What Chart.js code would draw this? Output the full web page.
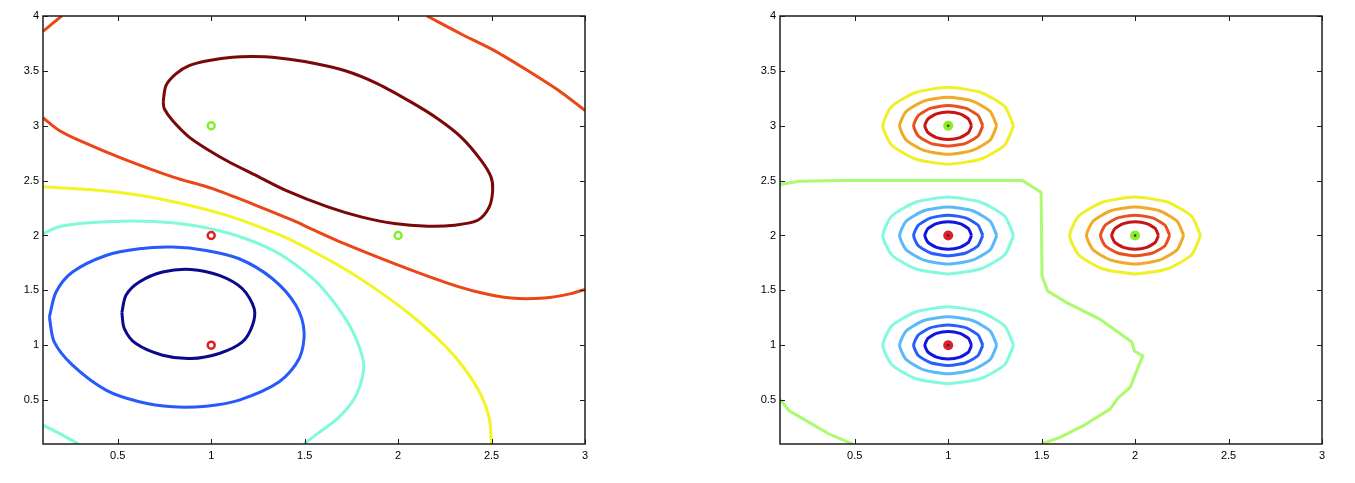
<!DOCTYPE html>
<html>
<head>
<meta charset="utf-8">
<script src="https://cdn.jsdelivr.net/npm/chart.js@4.4.1/dist/chart.umd.min.js"></script>
<style>
  body { margin: 0; background: #fff; }
  .panel { position: absolute; top: 0; width: 600px; height: 483px; }
  #left { left: 0; }
  #right { left: 737px; }
</style>
</head>
<body>
<div class="panel" id="left"><canvas id="c1"></canvas></div>
<div class="panel" id="right"><canvas id="c2"></canvas></div>
<script>
// axis ticks (both panels)
const xTicks = [0.5, 1, 1.5, 2, 2.5, 3]
const yTicks = [0.5, 1, 1.5, 2, 2.5, 3, 3.5, 4]

// training points
const greenPts = [[1, 3], [2, 2]]
const redPts = [[1, 2], [1, 1]]

// left panel: contour lines
const orangeTop = [[0.1, 3.86], [0.2, 4.0]]
const orangeMid = [[0.1, 3.073], [0.187, 2.957], [0.312, 2.852], [0.526, 2.7], [0.793, 2.534], [1.007, 2.427], [1.239, 2.275], [1.435, 2.139], [1.535, 2.061], [1.713, 1.925], [1.98, 1.743], [2.248, 1.575], [2.426, 1.485], [2.604, 1.43], [2.782, 1.43], [2.925, 1.47], [3.0, 1.509]]
const orangeRight = [[2.155, 4.0], [2.337, 3.836], [2.515, 3.685], [2.693, 3.503], [2.872, 3.306], [3.0, 3.139]]
const maroonLoop = [[0.743, 3.218], [0.758, 3.366], [0.811, 3.473], [0.882, 3.548], [0.989, 3.594], [1.114, 3.625], [1.221, 3.63], [1.328, 3.625], [1.5, 3.585], [1.713, 3.503], [1.891, 3.382], [2.07, 3.215], [2.212, 3.064], [2.337, 2.897], [2.444, 2.685], [2.497, 2.534], [2.506, 2.412], [2.488, 2.261], [2.426, 2.139], [2.301, 2.094], [2.159, 2.085], [1.98, 2.109], [1.802, 2.17], [1.624, 2.261], [1.399, 2.412], [1.239, 2.548], [1.096, 2.67], [0.989, 2.775], [0.882, 2.897], [0.793, 3.048], [0.749, 3.155], [0.743, 3.218]]
const yellowLine = [[0.1, 2.443], [0.348, 2.418], [0.615, 2.367], [0.882, 2.276], [1.079, 2.185], [1.257, 2.079], [1.4, 1.98], [1.535, 1.864], [1.713, 1.697], [1.891, 1.5], [2.07, 1.273], [2.248, 1.0], [2.355, 0.788], [2.444, 0.545], [2.488, 0.333], [2.5, 0.1]]
const cyanTop = [[0.1, 2.015], [0.187, 2.079], [0.348, 2.115], [0.579, 2.133], [0.793, 2.115], [0.998, 2.061], [1.186, 1.97], [1.364, 1.833], [1.535, 1.621], [1.642, 1.424], [1.749, 1.152], [1.811, 0.879], [1.811, 0.727], [1.766, 0.515], [1.677, 0.333], [1.57, 0.197], [1.497, 0.1]]
const cyanLow = [[0.1, 0.273], [0.187, 0.197], [0.29, 0.1]]
const blueLoop = [[0.134, 1.257], [0.17, 1.485], [0.258, 1.667], [0.437, 1.818], [0.615, 1.879], [0.793, 1.894], [0.972, 1.864], [1.15, 1.788], [1.328, 1.606], [1.453, 1.364], [1.497, 1.121], [1.471, 0.879], [1.364, 0.667], [1.15, 0.5], [0.972, 0.445], [0.793, 0.439], [0.615, 0.485], [0.437, 0.591], [0.258, 0.818], [0.16, 1.03], [0.134, 1.257]]
const navyLoop = [[0.522, 1.297], [0.544, 1.455], [0.615, 1.576], [0.74, 1.667], [0.891, 1.691], [1.043, 1.636], [1.167, 1.515], [1.23, 1.333], [1.221, 1.182], [1.167, 1.03], [1.043, 0.925], [0.891, 0.879], [0.74, 0.909], [0.597, 1.015], [0.535, 1.152], [0.522, 1.297]]

// right panel: rings round each point, outer to inner
const ringsA = [ // around (1,3)
  [[1.35,3],[1.303,3.175],[1.175,3.303],[1,3.35],[0.825,3.303],[0.697,3.175],[0.65,3],[0.697,2.825],[0.825,2.697],[1,2.65],[1.175,2.697],[1.303,2.825],[1.35,3]],
  [[1.26,3],[1.225,3.13],[1.13,3.225],[1,3.26],[0.87,3.225],[0.775,3.13],[0.74,3],[0.775,2.87],[0.87,2.775],[1,2.74],[1.13,2.775],[1.225,2.87],[1.26,3]],
  [[1.185,3],[1.16,3.093],[1.093,3.16],[1,3.185],[0.907,3.16],[0.84,3.093],[0.815,3],[0.84,2.907],[0.907,2.84],[1,2.815],[1.093,2.84],[1.16,2.907],[1.185,3]],
  [[1.125,3],[1.108,3.063],[1.063,3.108],[1,3.125],[0.937,3.108],[0.892,3.063],[0.875,3],[0.892,2.937],[0.937,2.892],[1,2.875],[1.063,2.892],[1.108,2.937],[1.125,3]]
]
const ringsB = [ // around (2,2)
  [[2.35,2],[2.303,2.175],[2.175,2.303],[2,2.35],[1.825,2.303],[1.697,2.175],[1.65,2],[1.697,1.825],[1.825,1.697],[2,1.65],[2.175,1.697],[2.303,1.825],[2.35,2]],
  [[2.26,2],[2.225,2.13],[2.13,2.225],[2,2.26],[1.87,2.225],[1.775,2.13],[1.74,2],[1.775,1.87],[1.87,1.775],[2,1.74],[2.13,1.775],[2.225,1.87],[2.26,2]],
  [[2.185,2],[2.16,2.093],[2.093,2.16],[2,2.185],[1.907,2.16],[1.84,2.093],[1.815,2],[1.84,1.907],[1.907,1.84],[2,1.815],[2.093,1.84],[2.16,1.907],[2.185,2]],
  [[2.125,2],[2.108,2.063],[2.063,2.108],[2,2.125],[1.937,2.108],[1.892,2.063],[1.875,2],[1.892,1.937],[1.937,1.892],[2,1.875],[2.063,1.892],[2.108,1.937],[2.125,2]]
]
const ringsC = [ // around (1,2)
  [[1.35,2],[1.303,2.175],[1.175,2.303],[1,2.35],[0.825,2.303],[0.697,2.175],[0.65,2],[0.697,1.825],[0.825,1.697],[1,1.65],[1.175,1.697],[1.303,1.825],[1.35,2]],
  [[1.26,2],[1.225,2.13],[1.13,2.225],[1,2.26],[0.87,2.225],[0.775,2.13],[0.74,2],[0.775,1.87],[0.87,1.775],[1,1.74],[1.13,1.775],[1.225,1.87],[1.26,2]],
  [[1.185,2],[1.16,2.093],[1.093,2.16],[1,2.185],[0.907,2.16],[0.84,2.093],[0.815,2],[0.84,1.907],[0.907,1.84],[1,1.815],[1.093,1.84],[1.16,1.907],[1.185,2]],
  [[1.125,2],[1.108,2.063],[1.063,2.108],[1,2.125],[0.937,2.108],[0.892,2.063],[0.875,2],[0.892,1.937],[0.937,1.892],[1,1.875],[1.063,1.892],[1.108,1.937],[1.125,2]]
]
const ringsD = [ // around (1,1)
  [[1.35,1],[1.303,1.175],[1.175,1.303],[1,1.35],[0.825,1.303],[0.697,1.175],[0.65,1],[0.697,0.825],[0.825,0.697],[1,0.65],[1.175,0.697],[1.303,0.825],[1.35,1]],
  [[1.26,1],[1.225,1.13],[1.13,1.225],[1,1.26],[0.87,1.225],[0.775,1.13],[0.74,1],[0.775,0.87],[0.87,0.775],[1,0.74],[1.13,0.775],[1.225,0.87],[1.26,1]],
  [[1.185,1],[1.16,1.093],[1.093,1.16],[1,1.185],[0.907,1.16],[0.84,1.093],[0.815,1],[0.84,0.907],[0.907,0.84],[1,0.815],[1.093,0.84],[1.16,0.907],[1.185,1]],
  [[1.125,1],[1.108,1.063],[1.063,1.108],[1,1.125],[0.937,1.108],[0.892,1.063],[0.875,1],[0.892,0.937],[0.937,0.892],[1,0.875],[1.063,0.892],[1.108,0.937],[1.125,1]]
]
const boundMain = [[0.1, 2.464], [0.202, 2.494], [0.434, 2.5], [1.398, 2.5], [1.497, 2.394], [1.502, 1.63], [1.532, 1.494], [1.634, 1.388], [1.813, 1.236], [1.982, 1.03], [1.996, 0.948], [2.041, 0.903], [2.012, 0.782], [1.973, 0.615], [1.911, 0.524], [1.866, 0.418], [1.723, 0.267], [1.598, 0.161], [1.5, 0.1]]
const boundLow = [[0.1, 0.509], [0.149, 0.403], [0.256, 0.297], [0.363, 0.191], [0.488, 0.1]]

const warmColors = ['rgb(240,240,40)', 'rgb(240,170,40)', 'rgb(232,80,30)', 'rgb(200,20,20)']
const coolColors = ['rgb(130,250,222)', 'rgb(90,185,250)', 'rgb(40,95,250)', 'rgb(20,20,225)']

const pts = arr => arr.map(p => ({ x: p[0], y: p[1] }))

const line = (arr, color, tension) => ({
  data: pts(arr),
  showLine: true,
  borderColor: color,
  borderWidth: 3,
  pointRadius: 0,
  tension: tension
})

const dots = (arr, fill, border, r, bw) => ({
  data: pts(arr),
  showLine: false,
  pointRadius: r,
  pointBackgroundColor: fill,
  pointBorderColor: border,
  pointBorderWidth: bw
})

// frame and inward tick marks, matlab style
const boxPlugin = {
  id: 'box',
  afterDraw(chart) {
    const { ctx, chartArea: a, scales } = chart
    ctx.save()
    ctx.strokeStyle = '#1e1e1e'
    ctx.lineWidth = 1
    ctx.beginPath()
    xTicks.forEach(v => {
      const p = Math.round(scales.x.getPixelForValue(v)) + 0.5
      ctx.moveTo(p, a.bottom); ctx.lineTo(p, a.bottom - 5)
      ctx.moveTo(p, a.top); ctx.lineTo(p, a.top + 5)
    })
    yTicks.forEach(v => {
      const p = Math.round(scales.y.getPixelForValue(v)) + 0.5
      ctx.moveTo(a.left, p); ctx.lineTo(a.left + 5, p)
      ctx.moveTo(a.right, p); ctx.lineTo(a.right - 5, p)
    })
    ctx.stroke()
    ctx.lineWidth = 1.5
    ctx.strokeRect(a.left, a.top, a.right - a.left, a.bottom - a.top)
    ctx.restore()
  }
}

const tickFont = { family: '"Liberation Sans", Arial, sans-serif', size: 11 }

const makeOptions = () => ({
  responsive: true,
  maintainAspectRatio: false,
  animation: false,
  layout: { padding: { top: 16, right: 15, left: 0, bottom: 0 } },
  plugins: { legend: { display: false }, tooltip: { enabled: false } },
  scales: {
    x: {
      type: 'linear',
      min: 0.1,
      max: 3,
      afterBuildTicks: s => { s.ticks = xTicks.map(v => ({ value: v })) },
      afterFit: s => { s.height = 39 },
      ticks: { font: tickFont, color: '#000', padding: 5, maxRotation: 0, autoSkip: false, callback: v => String(v) },
      grid: { display: false, drawTicks: false },
      border: { display: false }
    },
    y: {
      type: 'linear',
      min: 0.1,
      max: 4,
      afterBuildTicks: s => { s.ticks = yTicks.map(v => ({ value: v })) },
      afterFit: s => { s.width = 43 },
      ticks: { font: tickFont, color: '#000', padding: 4, autoSkip: false, callback: v => String(v) },
      grid: { display: false, drawTicks: false },
      border: { display: false }
    }
  }
})

new Chart(document.getElementById('c1'), {
  type: 'scatter',
  data: {
    datasets: [
      dots(greenPts, '#fff', 'rgb(130,240,40)', 3.5, 2.5),
      dots(redPts, '#fff', 'rgb(228,30,30)', 3.5, 2.5),
      line(maroonLoop, 'rgb(122,8,8)', 0.3),
      line(orangeTop, 'rgb(235,70,22)', 0.3),
      line(orangeMid, 'rgb(235,70,22)', 0.3),
      line(orangeRight, 'rgb(235,70,22)', 0.3),
      line(yellowLine, 'rgb(242,245,35)', 0.3),
      line(cyanTop, 'rgb(128,250,218)', 0.3),
      line(cyanLow, 'rgb(128,250,218)', 0.3),
      line(blueLoop, 'rgb(40,90,250)', 0.3),
      line(navyLoop, 'rgb(10,10,140)', 0.3)
    ]
  },
  options: makeOptions(),
  plugins: [boxPlugin]
})

new Chart(document.getElementById('c2'), {
  type: 'scatter',
  data: {
    datasets: [
      dots(greenPts, 'rgb(120,20,20)', 'rgb(120,20,20)', 1.2, 0),
      dots(redPts, 'rgb(20,20,200)', 'rgb(20,20,200)', 1.2, 0),
      dots(greenPts, 'rgb(130,240,40)', 'rgb(130,240,40)', 5, 0),
      dots(redPts, 'rgb(228,30,30)', 'rgb(228,30,30)', 5, 0),
      ...ringsA.map((r, i) => line(r, warmColors[i], 0.2)),
      ...ringsB.map((r, i) => line(r, warmColors[i], 0.2)),
      ...ringsC.map((r, i) => line(r, coolColors[i], 0.2)),
      ...ringsD.map((r, i) => line(r, coolColors[i], 0.2)),
      line(boundMain, 'rgb(172,250,110)', 0),
      line(boundLow, 'rgb(172,250,110)', 0)
    ]
  },
  options: makeOptions(),
  plugins: [boxPlugin]
})
</script>
</body>
</html>
